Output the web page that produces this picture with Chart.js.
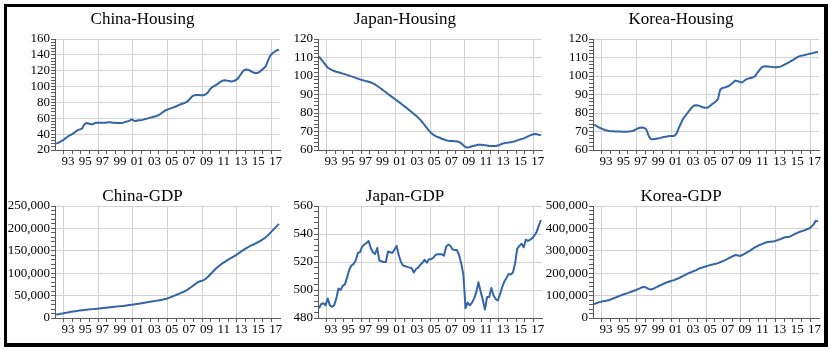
<!DOCTYPE html>
<html><head><meta charset="utf-8">
<script src="https://cdn.jsdelivr.net/npm/chart.js@4/dist/chart.umd.min.js"></script>
<style>
html,body{margin:0;padding:0;background:#fff;overflow:hidden;width:834px;height:354px;}
#frame{position:absolute;left:4px;top:4px;width:817px;height:336px;border-style:solid;border-color:#000;border-width:3px 4px 4px 3px;}
canvas{position:absolute;}
</style></head><body>
<div id="frame"></div>
<canvas id="c1" width="314" height="170" style="left:5px;top:0px"></canvas>
<canvas id="c2" width="316" height="170" style="left:268px;top:0px"></canvas>
<canvas id="c3" width="334" height="170" style="left:543px;top:0px"></canvas>
<canvas id="c4" width="314" height="168" style="left:5px;top:170px"></canvas>
<canvas id="c5" width="322" height="168" style="left:268px;top:170px"></canvas>
<canvas id="c6" width="340" height="168" style="left:543px;top:170px"></canvas>
<script>
// quarterly data, 1992Q1 .. 2017Q4
const firstYear = 1992;
const lastYear = 2017;
const quartersPerYear = 4;

const yearTicks = [1993,1994,1995,1996,1997,1998,1999,2000,2001,2002,2003,2004,2005,2006,2007,2008,2009,2010,2011,2012,2013,2014,2015,2016,2017];
const gridYears = [1993,1997,2001,2005,2009,2013,2017];
const labelYears = [1993,1995,1997,1999,2001,2003,2005,2007,2009,2011,2013,2015,2017];
const yearLabels = ['93','95','97','99','01','03','05','07','09','11','13','15','17'];

const chinaHousing = [28,29,30.5,32, 34,36,38,39.5, 41,43,45,46, 47,52,54,53.5, 52.5,52.5,54,54.5, 54.5,54.5,54.5,54.5, 55,55,54.5,54.5, 54,54,54,54.5, 55.5,56,57,58.5, 57,56.5,57.5,57.5, 58,59,59.5,60.5, 61,62,62.5,63.5, 65,67,69,70.5, 71.5,72.5,73.5,74.5, 75.5,77,78,79, 80,82,85,88, 89,89.5,89.5,89, 89,90,92,96, 99,100.5,102,104, 106,107.5,108,107.5, 107,106.5,107,108, 110,114,118,121, 121.5,121,119.5,118, 117,117,118.5,121, 123,126,133,139, 142,144,145.5,146.5];
const japanHousing = [110.5,109,107.5,106, 104.5,103.8,103.2,102.7, 102.3,102,101.6,101.3, 101,100.6,100.2,99.8, 99.4,99,98.6,98.2, 97.8,97.5,97.2,96.9, 96.5,96,95.4,94.6, 93.8,93,92,91.2, 90.3,89.4,88.6,87.7, 86.8,86,85.1,84.2, 83.3,82.4,81.4,80.5, 79.5,78.6,77.5,76.3, 75,73.5,72,70.5, 69.3,68.3,67.6,67, 66.6,66.1,65.7,65.3, 65,64.9,64.8,64.7, 64.6,64.4,63.6,62.5, 61.6,61.3,61.6,62, 62.3,62.6,62.8,62.8, 62.7,62.6,62.4,62.2, 62.1,62.1,62.2,62.4, 62.9,63.4,63.7,63.9, 64,64.2,64.4,64.7, 65.2,65.6,65.9,66.3, 66.8,67.4,67.9,68.4, 68.6,68.5,68.2,68];
const koreaHousing = [73.8,73,72.3,71.8, 71.3,70.8,70.5,70.3, 70.2,70.1,70,70, 70,69.9,69.9,69.9, 70,70.1,70.4,71, 71.6,72,72.2,72, 71.2,68,66,65.8, 66,66.2,66.4,66.7, 67,67.2,67.4,67.6, 67.6,67.7,69,72, 74.5,77,78.5,80, 81.5,83,84,84.2, 84,83.6,83.1,82.8, 82.8,83.5,84.5,85.3, 86.2,87.5,92.5,93.5, 93.8,94.2,94.6,95.5, 96.5,97.5,97.3,96.8, 96.5,97.3,98.2,98.6, 98.9,99.2,99.8,101.5, 103,104.5,105.2,105.3, 105.2,105,104.8,104.7, 104.7,104.8,105.2,105.8, 106.4,107,107.6,108.3, 109,109.8,110.5,110.9, 111.1,111.4,111.7,112, 112.2,112.5,112.8,113];
const chinaGDP = [8000,8500,9300,10000, 11000,12000,13000,13800, 14500,15200,16000,16600, 17200,17800,18300,18800, 19300,19800,20300,20800, 21300,21800,22400,23000, 23500,24000,24500,25000, 25500,26000,26500,27000, 27600,28200,28900,29600, 30300,31000,31800,32600, 33400,34200,35000,35800, 36600,37400,38200,39000, 39800,40600,41800,43000, 44500,46500,48500,50500, 52500,54500,56500,58500, 61000,64000,67500,71000, 74500,78000,81000,82500, 84000,87000,91000,96000, 101000,106000,111000,115000, 119000,122500,125500,128500, 131500,134000,137000,140000, 143000,146500,150000,153000, 156000,159000,161500,163500, 166000,168500,171000,174000, 177000,180500,185000,190000, 195000,200000,205000,210000];
const japanGDP = [487,490,490.5,489, 494,489,488,489, 494,501,500,503, 504,509,514.5,517.5, 518.5,521,526.5,527, 531,532.5,533.5,535, 530,527,525.7,530, 521,520.5,520,520, 527.5,527,526.5,529, 531.5,525,520,517.5, 517,516.5,516,515.5, 512.5,515,516,518, 519.5,521.5,519.5,522, 522,523,525,525.5, 525.5,525.5,524.5,531, 532.5,531.5,529,528.5, 528.5,525,519,511, 487,491,489,491, 494,498.5,505.5,499, 493,486,495,495, 501.5,496,493.5,492.5, 497,502,506,508.5, 511.5,511,512.5,519, 529.5,531.5,533,530.5, 536,535,536,537, 539,541.5,546,550];
const koreaGDP = [62000,66000,70000,72000, 74500,76000,78000,80500, 84000,88000,92000,96000, 100000,104000,107000,110000, 113500,117000,120500,124000, 128000,132000,137000,139000, 136000,130000,127000,129000, 134000,139000,144000,148000, 153000,157000,161000,164000, 167000,170000,174000,178000, 183000,188000,193000,198000, 202000,206000,210000,214000, 219000,223000,226000,229000, 232000,235000,238000,240000, 242000,245000,249000,253000, 257000,262000,267000,272000, 277000,281000,280000,277000, 280000,285000,291000,296000, 302000,309000,315000,320000, 325000,329000,333000,337000, 339000,340000,341000,343000, 346000,350000,353000,357000, 361000,362000,363000,368000, 373000,378000,382000,386000, 389000,392000,396000,400000, 408000,418000,434000,431000];

// y-axis ranges: [min, max, major step, minor step]
const chinaHousingAxis = [20, 160, 20, 4];
const japanHousingAxis = [60, 120, 10, 2];
const koreaHousingAxis = [60, 120, 10, 2];
const chinaGDPAxis = [0, 250000, 50000, 10000];
const japanGDPAxis = [480, 560, 20, 4];
const koreaGDPAxis = [0, 500000, 100000, 20000];

const lineColor = '#3365a8';
const gridColor = '#d2d2d2';
const axisColor = '#5a5a5a';
const clear = 'rgba(0,0,0,0)';
const FONT = 'Liberation Serif, Times New Roman, serif';

function fmt(v){ return Math.round(v).toLocaleString('en-US'); }

function panel(id, title, values, axis, titlePad, padRight){
  const [yMin, yMax, major, minor] = axis;
  const isMajor = v => Math.abs((v - yMin) / major - Math.round((v - yMin) / major)) < 1e-6;
  const yVals = [];
  for (let k = 0; yMin + k * minor <= yMax + 1e-9; k++) yVals.push(yMin + k * minor);
  const pts = values.map((v, i) => ({x: firstYear + (i + 0.5) / quartersPerYear, y: v}));
  new Chart(document.getElementById(id), {
    type: 'line',
    data: {datasets: [{data: pts, borderColor: lineColor, borderWidth: 2, pointRadius: 0, tension: 0, fill: false, borderJoinStyle: 'round'}]},
    options: {
      responsive: false, animation: false, events: [],
      layout: {padding: {left: 0, right: padRight, top: 0, bottom: 0}},
      plugins: {
        legend: {display: false}, tooltip: {enabled: false},
        title: {display: true, text: title, color: '#000',
          font: {family: FONT, size: 17, weight: 'normal', lineHeight: 1.1}, padding: titlePad}
      },
      scales: {
        x: {
          type: 'linear', min: firstYear, max: lastYear + 1,
          afterBuildTicks: s => { s.ticks = yearTicks.map(v => ({value: v})); },
          afterFit: s => { s.height = 20; },
          grid: {color: c => (c.tick && gridYears.includes(c.tick.value)) ? gridColor : clear,
                 tickColor: axisColor, tickLength: 4, lineWidth: 1},
          border: {color: axisColor, width: 1},
          ticks: {autoSkip: false, maxRotation: 0, minRotation: 0, padding: 0, labelOffset: 4.3,
            color: '#000', font: {family: FONT, size: 13},
            callback: v => { const j = labelYears.indexOf(v); return j >= 0 ? yearLabels[j] : ''; }}
        },
        y: {
          type: 'linear', min: yMin, max: yMax,
          afterBuildTicks: s => { s.ticks = yVals.map(v => ({value: v})); },
          afterFit: s => { s.width = 50; },
          grid: {color: c => (c.tick && isMajor(c.tick.value)) ? gridColor : clear,
                 tickColor: axisColor, tickLength: 4, lineWidth: 1},
          border: {color: axisColor, width: 1},
          ticks: {autoSkip: false, padding: 1, color: '#000', font: {family: FONT, size: 13},
            callback: v => isMajor(v) ? fmt(v) : ''}
        }
      }
    }
  });
}

const topPad = {top: 10, bottom: 10.3};
const botPad = {top: 17.3, bottom: 0};
panel('c1', 'China-Housing', chinaHousing, chinaHousingAxis, topPad, 39);
panel('c2', 'Japan-Housing', japanHousing, japanHousingAxis, topPad, 42);
panel('c3', 'Korea-Housing', koreaHousing, koreaHousingAxis, topPad, 58);
panel('c4', 'China-GDP', chinaGDP, chinaGDPAxis, botPad, 39);
panel('c5', 'Japan-GDP', japanGDP, japanGDPAxis, botPad, 48);
panel('c6', 'Korea-GDP', koreaGDP, koreaGDPAxis, botPad, 64);
</script>
</body></html>
